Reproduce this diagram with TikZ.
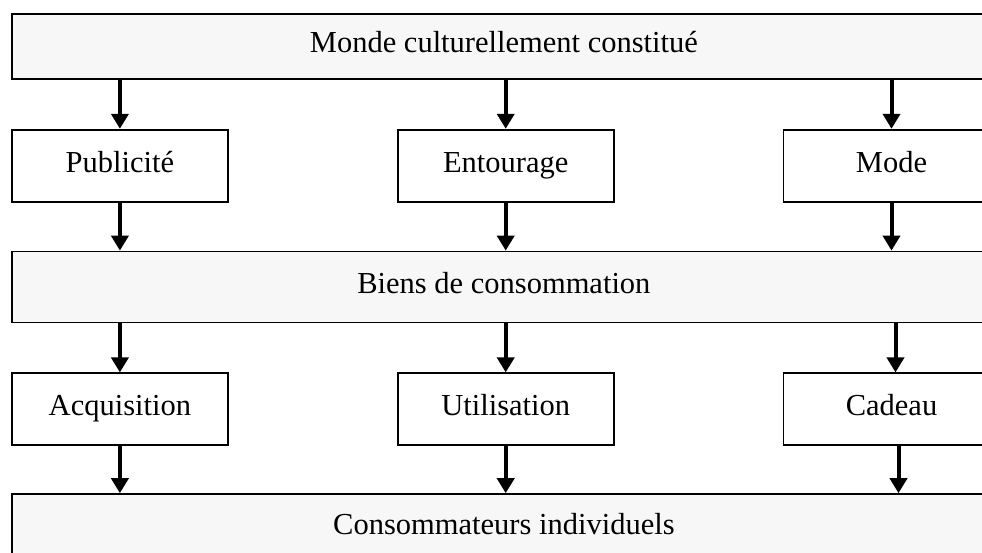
\documentclass[tikz,border=0pt]{standalone}
\usepackage{fontspec}
\setmainfont{Liberation Serif}
\usepackage{tikz}
\usetikzlibrary{arrows.meta,positioning}
\definecolor{mylight}{RGB}{247,247,247}

\begin{document}
\begin{tikzpicture}[
  x=1pt, y=-1pt,
  every node/.style={font=\fontsize{30.5}{36}\selectfont, align=center, text height=21pt, text depth=8pt},
  widebox/.style={draw=black, line width=1.8pt, fill=mylight, minimum width=984pt, anchor=north west},
  smallbox/.style={draw=black, line width=1.8pt, fill=white, minimum width=216pt, minimum height=72pt},
  edge/.style={-{Triangle[width=17pt,length=15pt]}, line width=4pt, black}
]
\useasboundingbox (0,0) rectangle (982,552);
\clip (0,0) rectangle (982,552);

\node[widebox, minimum height=65pt] (monde) at (11,13) {Monde culturellement constitué};
\node[smallbox, below=49pt of monde.south west, anchor=north west] (pub) {Publicité};
\node[smallbox, right=168pt of pub] (ent) {Entourage};
\node[smallbox, right=168pt of ent] (mode) {Mode};
\node[widebox, minimum height=71pt, below=48pt of pub.south west, anchor=north west] (biens) {Biens de consommation};
\node[smallbox, below=49pt of biens.south west, anchor=north west] (acq) {Acquisition};
\node[smallbox, right=168pt of acq] (util) {Utilisation};
\node[smallbox, right=168pt of util] (cad) {Cadeau};
\node[widebox, minimum height=67pt, below=47pt of acq.south west, anchor=north west] (conso) {Consommateurs individuels};

\draw[edge] (monde.south -| pub) -- (pub);
\draw[edge] (monde.south -| ent) -- (ent);
\draw[edge] (monde.south -| mode) -- (mode);
\draw[edge] (pub) -- (pub |- biens.north);
\draw[edge] (ent) -- (ent |- biens.north);
\draw[edge] (mode) -- (mode |- biens.north);
\draw[edge] (biens.south -| acq) -- (acq);
\draw[edge] (biens.south -| util) -- (util);
\draw[edge] ([xshift=4pt]biens.south -| cad) -- ([xshift=4pt]cad.north);
\draw[edge] (acq) -- (acq |- conso.north);
\draw[edge] (util) -- (util |- conso.north);
\draw[edge] ([xshift=7pt]cad.south) -- ([xshift=7pt]cad.south |- conso.north);
\end{tikzpicture}
\end{document}
